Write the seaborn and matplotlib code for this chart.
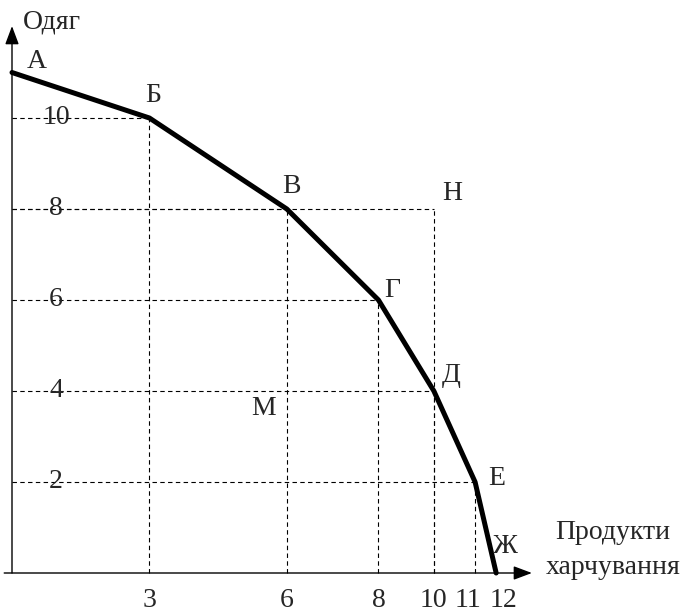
import numpy as np
import matplotlib.pyplot as plt
import seaborn as sns

# production possibilities curve: food (x) vs clothing (y)
point_names = ['А', 'Б', 'В', 'Г', 'Д', 'Е', 'Ж']
food = [0, 3, 6, 8, 10, 11, 12]
clothing = [11, 10, 8, 6, 4, 2, 0]

# points off the curve
extra_names = ['Н', 'М']
extra_food = [10, 6]
extra_clothing = [8, 4]

x_ticks = [3, 6, 8, 10, 11, 12]
y_ticks = [2, 4, 6, 8, 10]

# label offsets in pixels (dx right, dy up), baseline aligned
label_offsets = {
    'А': (25, 4.5), 'Б': (4, 16), 'В': (5, 16), 'Г': (14, 3),
    'Д': (17, 9), 'Е': (22, -3), 'Ж': (9, 20), 'Н': (18, 9), 'М': (-23, -24),
}
x_label_nudge = {11: -7, 12: 7}

# the hand-drawn sketch squeezes the food axis past 8
sketch_in = [-50, 0, 8, 10, 11, 12, 60]
sketch_out = [-50, 0, 8, 9.21, 10.11, 10.57, 58.57]


def fwd(v):
    return np.interp(v, sketch_in, sketch_out)


def inv(v):
    return np.interp(v, sketch_out, sketch_in)


sns.set_style('white')
plt.rcParams['font.family'] = ['Liberation Serif', 'DejaVu Serif']
FS = 20
PT = 0.72  # points per pixel at dpi 100

fig = plt.figure(figsize=(6.89, 6.13), dpi=100)
ax = fig.add_axes([0, 0, 1, 1])
ax.set_xscale('function', functions=(fwd, inv))
ax.set_xlim(-0.262, 16.21)
ax.set_ylim(-40 / 45.5, 573 / 45.5)
ax.axis('off')

# dashed guide lines
guide_x = food[1:6] + [extra_food[0]]
guide_y = clothing[1:6] + [extra_clothing[0]]
for gx, gy in zip(guide_x, guide_y):
    ax.plot([0, gx], [gy, gy], color='black', lw=0.8, ls=(0, (4, 3)))
    ax.plot([gx, gx], [0, gy], color='black', lw=0.8, ls=(0, (4, 3)))

# the curve
sns.lineplot(x=food, y=clothing, sort=False, estimator=None, color='black',
             lw=3.6, ax=ax, legend=False)

# axes with arrows
arrow = dict(arrowstyle='-|>,head_length=0.8,head_width=0.3', color='black',
             lw=1, mutation_scale=14, shrinkA=0, shrinkB=0)
ax.annotate('', xy=(0, 12.02), xytext=(0, 0), arrowprops=arrow)
ax.annotate('', xy=(12.78, 0), xytext=(-0.17, 0), arrowprops=arrow)

# point labels
for name, x, y in zip(point_names + extra_names, food + extra_food,
                      clothing + extra_clothing):
    dx, dy = label_offsets[name]
    ax.annotate(name, xy=(x, y), xytext=(dx * PT, dy * PT),
                textcoords='offset points', ha='center', va='baseline',
                fontsize=FS)

# tick labels
for t in y_ticks:
    ax.annotate(str(t), xy=(0, t), xytext=(44 * PT, -6 * PT),
                textcoords='offset points', ha='center', va='baseline',
                fontsize=FS)
for t in x_ticks:
    ax.annotate(str(t), xy=(t, 0), xytext=(x_label_nudge.get(t, 0) * PT, -34 * PT),
                textcoords='offset points', ha='center', va='baseline',
                fontsize=FS)

# axis titles
fig.text(23 / 689, 1 - 28 / 613, 'Одяг', ha='left', va='baseline', fontsize=FS)
fig.text(613 / 689, 1 - 539 / 613, 'Продукти', ha='center', va='baseline', fontsize=FS)
fig.text(613 / 689, 1 - 574 / 613, 'харчування', ha='center', va='baseline', fontsize=FS)

fig.savefig('out.png', dpi=100)
